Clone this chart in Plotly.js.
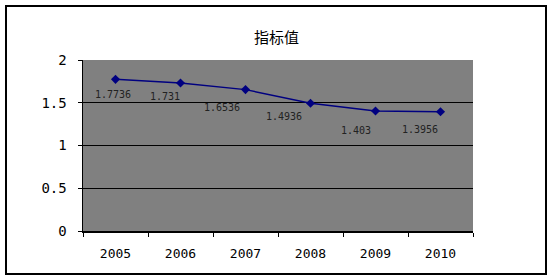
<!DOCTYPE html>
<html>
<head>
<meta charset="utf-8">
<script src="https://cdn.plot.ly/plotly-3.0.1.min.js"></script>
<style>
html,body{margin:0;padding:0;background:#fff;}
#wrap{position:relative;width:553px;height:280px;}
#chart{position:absolute;left:0;top:0;width:553px;height:280px;}
#frame{position:absolute;left:5px;top:5px;width:538px;height:266px;border:2px solid #000;pointer-events:none;}
</style>
</head>
<body>
<div id="wrap"><div id="chart"></div><div id="frame"></div></div>
<script>
const years = ['2005','2006','2007','2008','2009','2010'];
const values = [1.7736, 1.731, 1.6536, 1.4936, 1.403, 1.3956];
const labels = ['1.7736','1.731','1.6536','1.4936','1.403','1.3956'];
const labelShiftX = [-3, -16, -24, -27, -20, -21];
const labelShiftY = [-15, -13, -18, -13, -19, -18];
const yTickVals = [0, 0.5, 1, 1.5, 2];
const yTickText = ['0', '0.5', '1', '1.5', '2'];
const seriesName = '指标值';

const trace = {
  x: years, y: values, type: 'scatter', mode: 'lines+markers', name: seriesName,
  line: {color: '#000080', width: 1.5},
  marker: {symbol: 'diamond', size: 7, color: '#000080'},
  hoverinfo: 'none'
};

const annotations = years.map((yr, i) => ({
  x: i, y: values[i], xref: 'x', yref: 'y', text: labels[i],
  showarrow: false, xshift: labelShiftX[i], yshift: labelShiftY[i],
  xanchor: 'center', yanchor: 'middle',
  font: {family: 'DejaVu Sans Mono', size: 10, color: '#222222'}
}));

const layout = {
  width: 553, height: 280,
  margin: {l: 83, r: 80, t: 60, b: 49, pad: 0},
  paper_bgcolor: '#ffffff', plot_bgcolor: '#808080',
  showlegend: false,
  title: {text: seriesName, x: 0.5, xanchor: 'center', y: 0.865, yanchor: 'middle',
          font: {family: 'Noto Sans CJK SC', size: 15, color: '#000'}},
  xaxis: {type: 'category', range: [-0.5, 5.5], showgrid: false, zeroline: false,
          showline: true, linecolor: '#000', linewidth: 1.5, mirror: false,
          ticks: 'outside', tickson: 'boundaries', ticklen: 4, tickcolor: '#000',
          ticklabelstandoff: 10,
          tickfont: {family: 'DejaVu Sans Mono', size: 13, color: '#000'}, fixedrange: true},
  yaxis: {range: [0, 2], showgrid: true, gridcolor: '#000', gridwidth: 1,
          zeroline: false, showline: true, linecolor: '#000', linewidth: 1.5,
          ticks: 'outside', ticklen: 4, tickcolor: '#000', ticklabelstandoff: 8,
          tickvals: yTickVals, ticktext: yTickText,
          tickfont: {family: 'DejaVu Sans Mono', size: 14, color: '#000'}, fixedrange: true},
  annotations: annotations
};

Plotly.newPlot('chart', [trace], layout, {staticPlot: true, displayModeBar: false});
</script>
</body>
</html>
